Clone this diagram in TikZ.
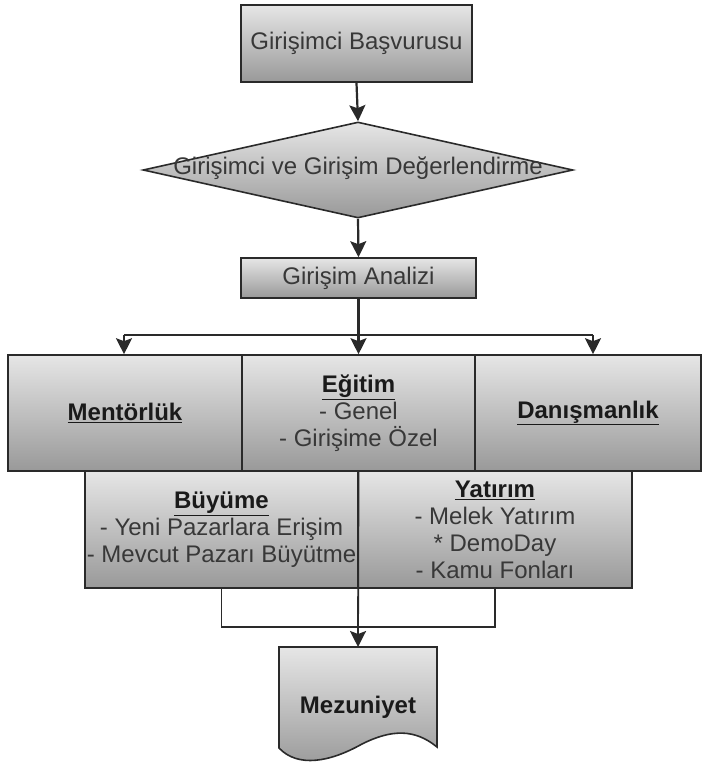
\documentclass[tikz,border=0pt]{standalone}
\usepackage{fontspec}
\setmainfont{Liberation Sans}
\usetikzlibrary{arrows.meta,shapes.geometric}
\definecolor{linec}{HTML}{2A2A2A}
\definecolor{gtop}{HTML}{E6E6E6}
\definecolor{gbot}{HTML}{999999}
\definecolor{txtc}{HTML}{383838}
\definecolor{headc}{HTML}{1A1A1A}
\newcommand{\hd}[1]{{\color{headc}\bfseries\underline{#1}}}
\begin{document}
\begin{tikzpicture}[x=1pt,y=-1pt,
  box/.style={rectangle, draw=linec, line width=1.6pt, top color=gtop, bottom color=gbot,
    inner sep=0pt, font=\fontsize{24}{27}\selectfont, text=txtc, align=center},
  dia/.style={diamond, draw=linec, line width=1.6pt, top color=gtop, bottom color=gbot,
    inner sep=0pt},
  txt/.style={inner sep=0pt, font=\fontsize{24}{27}\selectfont, text=txtc, align=center},
  conn/.style={draw=linec, line width=1.5pt},
  arr/.style={draw=linec, line width=2.2pt, -{Stealth[length=16pt,width=16pt,inset=3pt]}}
]
\useasboundingbox (0,0) rectangle (703,765);

% top box
\node[box, minimum width=231pt, minimum height=77pt, line width=2.2pt] (basv) at (356.5,43.5) {Girişimci Başvurusu};

% decision
\node[dia, minimum width=430pt, minimum height=96pt] (dec) at (358,170) {};
\node[txt] (dectxt) at ([yshift=2pt]dec.center) {Girişimci ve Girişim Değerlendirme};

% analysis
\node[box, minimum width=235pt, minimum height=40pt] (anal) at (358.5,278) {Girişim Analizi};

% row 1
\node[box, minimum width=234pt, minimum height=116pt] (ment) at (125,413) {\hd{Mentörlük}};
\node[box, minimum width=233pt, minimum height=116pt] (egit) at (358.5,413) {\hd{Eğitim}\\- Genel\\- Girişime Özel};
\node[box, minimum width=226pt, minimum height=116pt] (danis) at (588,413) {\hd{Danışmanlık}};

% row 2
\node[box, minimum width=273pt, minimum height=117pt] (buy) at (221.5,529.5) {\hd{Büyüme}\\- Yeni Pazarlara Erişim\\- Mevcut Pazarı Büyütme};
\node[box, minimum width=274pt, minimum height=117pt] (yat) at (495,529.5) {\hd{Yatırım}\\- Melek Yatırım\\* DemoDay\\- Kamu Fonları};

% document shape
\path[draw=linec, line width=1.6pt, top color=gtop, bottom color=gbot]
  (279,647) -- (437,647) -- (437,747)
  .. controls (415,729) and (392,729) .. (362,744)
  .. controls (330,762) and (298,768) .. (279,748) -- cycle;
\coordinate (mezn) at (358,647);
\node[txt, font=\fontsize{24}{27}\selectfont\bfseries, text=headc] (mez) at (358,707) {Mezuniyet};

% connectors
\draw[arr] (basv.south) -- (dec.north);
\draw[arr] (dec.south) -- (anal.north);
\draw[arr] (anal.south) -- (egit.north);
\coordinate (bl) at (124,335);
\coordinate (br) at (593,335);
\draw[conn, line width=2pt] (bl) -- (br);
\draw[arr, line width=1.8pt] (bl) -- (bl |- ment.north);
\draw[arr, line width=1.8pt] (br) -- (br |- danis.north);

\coordinate (jn) at (358,627);
\draw[conn] (buy.south) |- (jn) -| (yat.south);
\draw[arr, line width=1.8pt] (egit.south) -- (mezn);
\end{tikzpicture}
\end{document}
